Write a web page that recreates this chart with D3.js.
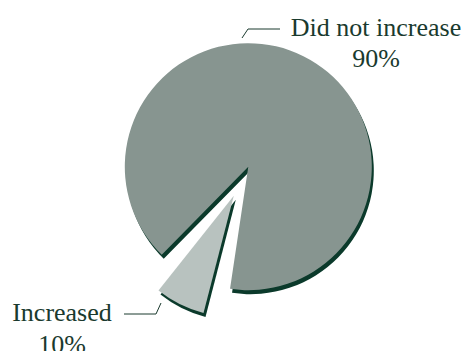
<!DOCTYPE html>
<html>
<head>
<meta charset="utf-8">
<script src="https://cdn.jsdelivr.net/npm/d3@7"></script>
<style>
  html, body { margin: 0; padding: 0; background: #fff; }
  svg { display: block; }
  text { font-family: "Liberation Serif", "Times New Roman", serif; fill: #1a3a2e; font-size: 26px; }
</style>
</head>
<body>
<svg id="chart" width="466" height="351"></svg>
<script>
// ---- data ----
const categories = ["Did not increase", "Increased"];
const values = [90, 10];
const valueLabels = ["90%", "10%"];

// ---- layout / style ----
const W = 466, H = 351;
const cx = 248.3, cy = 166.7, R = 123.5, Rsmall = 121;
const deg = Math.PI / 180;
const colors = ["#879590", "#b8c2bf"];
const shadowColor = "#0b3a2b";
const shadowDx = 2, shadowDy = 4;
const explode = [0, 32.5];
const pads = [0, 12 * deg];

const svg = d3.select("#chart");
const g = svg.append("g").attr("transform", `translate(${cx},${cy})`);

const pie = d3.pie().sort(null)
  .startAngle(224.5 * deg).endAngle((224.5 + 360) * deg);
const arcs = pie(values);

function arcFor(i) {
  return d3.arc().innerRadius(0).outerRadius(i === 0 ? R : Rsmall).padAngle(pads[i]);
}
function offset(d, i) {
  const a = (d.startAngle + d.endAngle) / 2;
  return [explode[i] * Math.sin(a), -explode[i] * Math.cos(a)];
}

arcs.forEach((d, i) => {
  const [ox, oy] = offset(d, i);
  const path = arcFor(i)(d);
  g.append("path").attr("d", path)
    .attr("transform", `translate(${ox + shadowDx},${oy + shadowDy})`)
    .attr("fill", shadowColor);
  g.append("path").attr("d", path)
    .attr("transform", `translate(${ox},${oy})`)
    .attr("fill", colors[i]);
});

// ---- labels with leader lines ----
const labelSpec = [
  { x: 376, y1: 36, y2: 67, line: [[242, 38], [248, 29], [280, 29]] },
  { x: 62, y1: 321, y2: 353, line: [[124, 314], [156, 314], [161, 303]] }
];
const line = d3.line();
labelSpec.forEach((s, i) => {
  svg.append("path").attr("d", line(s.line))
    .attr("fill", "none").attr("stroke", "#1a3a2e").attr("stroke-width", 1);
  svg.append("text").attr("x", s.x).attr("y", s.y1)
    .attr("text-anchor", "middle").text(categories[i]);
  svg.append("text").attr("x", s.x).attr("y", s.y2)
    .attr("text-anchor", "middle").text(valueLabels[i]);
});
</script>
</body>
</html>
